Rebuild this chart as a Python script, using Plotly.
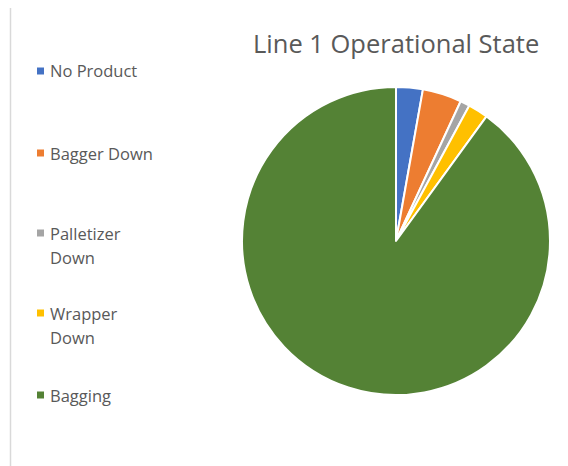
import plotly.graph_objects as go

W, H = 568, 466
OFF = 8  # default page body margin
FW, FH = W - OFF, H - OFF

labels = ["No Product", "Bagger Down", "Palletizer Down", "Wrapper Down", "Bagging"]
legend_lines = [["No Product"], ["Bagger Down"], ["Palletizer", "Down"], ["Wrapper", "Down"], ["Bagging"]]
values = [2.8, 4.1, 1.0, 2.1, 90.0]
colors = ["#4472C4", "#ED7D31", "#A5A5A5", "#FFC000", "#548235"]
title_text = "Line 1 Operational State"

FONT = "'Open Sans', sans-serif"
TXT = "#595959"


def px(x):
    return (x - OFF) / FW


def py(y):
    return 1 - (y - OFF) / FH


cx, cy, r = 396, 241, 154

fig = go.Figure(go.Pie(
    labels=labels, values=values, sort=False, direction="clockwise", rotation=0,
    marker=dict(colors=colors, line=dict(color="white", width=2)),
    textinfo="none", showlegend=False, hoverinfo="label+value",
    domain=dict(x=[px(cx - r), px(cx + r)], y=[py(cy + r), py(cy - r)]),
))

shapes = [
    dict(type="line", xref="paper", yref="paper", x0=px(10.5), x1=px(558), y0=py(5.5), y1=py(5.5),
         line=dict(color="#D9D9D9", width=1.5)),
    dict(type="line", xref="paper", yref="paper", x0=px(10.5), x1=px(10.5), y0=0, y1=py(5.5),
         line=dict(color="#D9D9D9", width=1.5)),
]
annotations = []
item_y = [71, 153, 233, 313, 395]
for lines, col, y in zip(legend_lines, colors, item_y):
    shapes.append(dict(type="rect", xref="paper", yref="paper", x0=px(37), x1=px(44),
                       y0=py(y + 3.5), y1=py(y - 3.5), fillcolor=col, line=dict(width=0)))
    for i, t in enumerate(lines):
        annotations.append(dict(text=t, xref="paper", yref="paper", x=px(48), y=py(y + 24 * i),
                                xanchor="left", yanchor="middle", showarrow=False,
                                font=dict(family=FONT, size=16.5, color=TXT)))

annotations.append(dict(text=title_text, xref="paper", yref="paper", x=px(396), y=py(43),
                        xanchor="center", yanchor="middle", showarrow=False,
                        font=dict(family=FONT, size=25.5, color=TXT)))

fig.update_layout(
    width=FW, height=FH, margin=dict(l=0, r=0, t=0, b=0),
    paper_bgcolor="white", plot_bgcolor="white",
    shapes=shapes, annotations=annotations, showlegend=False,
)
fig.write_html("out.html")
